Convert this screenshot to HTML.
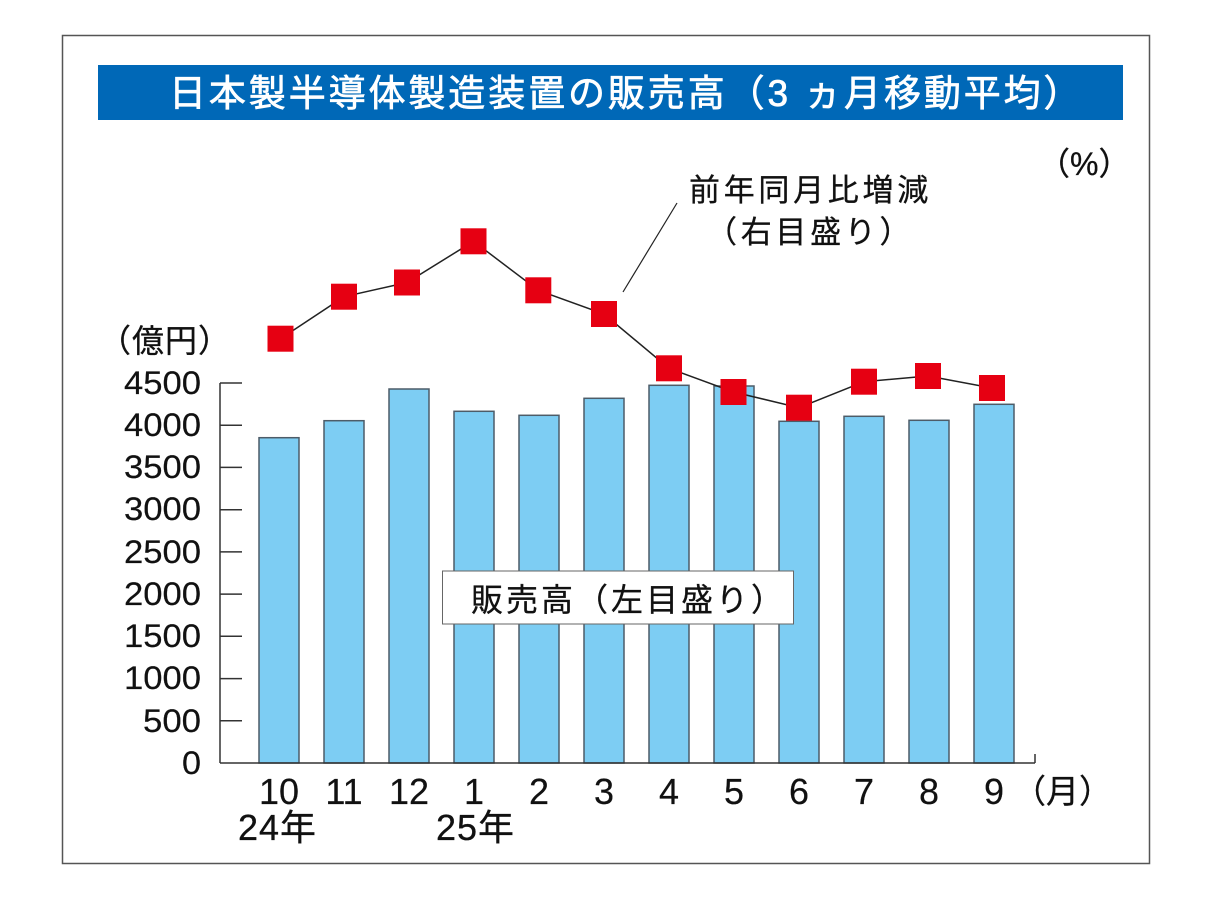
<!DOCTYPE html>
<html>
<head>
<meta charset="utf-8">
<style>
html,body{margin:0;padding:0;background:#fff;}
svg{display:block;}
text{font-family:"Liberation Sans","Noto Sans CJK JP",sans-serif;}
</style>
</head>
<body>
<svg width="1222" height="904" viewBox="0 0 1222 904" xmlns="http://www.w3.org/2000/svg">
  <rect x="0" y="0" width="1222" height="904" fill="#ffffff"/>
  <!-- frame -->
  <rect x="62.5" y="35.5" width="1087" height="828" fill="none" stroke="#555" stroke-width="1.5"/>
  <!-- title bar -->
  <rect x="98" y="65" width="1025" height="55" fill="#0068b7"/>
  <text x="169" y="106" font-size="37" fill="#ffffff" stroke="#ffffff" stroke-width="0.7" letter-spacing="2.9">日本製半導体製造装置の販売高（3 ヵ月移動平均）</text>

  <!-- unit labels -->
  <g fill="#111" stroke="#111" stroke-width="0.3">
  <text x="1038" y="175" font-size="32">（%）</text>
  <text x="99" y="352" font-size="32" letter-spacing="1">（億円）</text>

  <!-- annotation -->
  <text x="689" y="201" font-size="31" letter-spacing="3.7">前年同月比増減</text>
  <text x="706" y="243" font-size="31" letter-spacing="3.7">（右目盛り）</text>
  </g>
  <line x1="677" y1="203" x2="623" y2="292" stroke="#222" stroke-width="1.2"/>

  <!-- bars -->
  <g fill="#7dcdf3" stroke="#4d5c68" stroke-width="1.5">
    <rect x="259" y="437.7" width="40" height="325.3"/>
    <rect x="324" y="420.7" width="40" height="342.3"/>
    <rect x="389" y="389" width="40" height="374"/>
    <rect x="454" y="411.3" width="40" height="351.7"/>
    <rect x="519" y="415.3" width="40" height="347.7"/>
    <rect x="584" y="398.3" width="40" height="364.7"/>
    <rect x="649" y="385.3" width="40" height="377.7"/>
    <rect x="714" y="386" width="40" height="377"/>
    <rect x="779" y="421.3" width="40" height="341.7"/>
    <rect x="844" y="416.3" width="40" height="346.7"/>
    <rect x="909" y="420.3" width="40" height="342.7"/>
    <rect x="974" y="404.3" width="40" height="358.7"/>
  </g>

  <!-- axes -->
  <g stroke="#333" stroke-width="1.5" fill="none">
    <line x1="220" y1="383" x2="220" y2="763"/>
    <line x1="220" y1="763" x2="1035" y2="763"/>
    <line x1="1035" y1="754" x2="1035" y2="763"/>
    <line x1="220" y1="383" x2="242" y2="383"/>
    <line x1="220" y1="425.2" x2="242" y2="425.2"/>
    <line x1="220" y1="467.4" x2="242" y2="467.4"/>
    <line x1="220" y1="509.7" x2="242" y2="509.7"/>
    <line x1="220" y1="551.9" x2="242" y2="551.9"/>
    <line x1="220" y1="594.1" x2="242" y2="594.1"/>
    <line x1="220" y1="636.3" x2="242" y2="636.3"/>
    <line x1="220" y1="678.6" x2="242" y2="678.6"/>
    <line x1="220" y1="720.8" x2="242" y2="720.8"/>
  </g>

  <!-- y tick labels -->
  <g font-size="32" fill="#111" stroke="#111" stroke-width="0.2">
    <text x="124" y="394" textLength="77" lengthAdjust="spacingAndGlyphs">4500</text>
    <text x="124" y="436" textLength="77" lengthAdjust="spacingAndGlyphs">4000</text>
    <text x="124" y="478" textLength="77" lengthAdjust="spacingAndGlyphs">3500</text>
    <text x="124" y="520" textLength="77" lengthAdjust="spacingAndGlyphs">3000</text>
    <text x="124" y="563" textLength="77" lengthAdjust="spacingAndGlyphs">2500</text>
    <text x="124" y="605" textLength="77" lengthAdjust="spacingAndGlyphs">2000</text>
    <text x="124" y="647" textLength="77" lengthAdjust="spacingAndGlyphs">1500</text>
    <text x="124" y="689" textLength="77" lengthAdjust="spacingAndGlyphs">1000</text>
    <text x="143" y="732" textLength="58" lengthAdjust="spacingAndGlyphs">500</text>
    <text x="182" y="774" textLength="19" lengthAdjust="spacingAndGlyphs">0</text>
  </g>

  <!-- x labels -->
  <g font-size="36" fill="#111" stroke="#111" stroke-width="0.2" text-anchor="middle">
    <text x="279" y="804">10</text>
    <text x="344" y="804">11</text>
    <text x="409" y="804">12</text>
    <text x="474" y="804">1</text>
    <text x="539" y="804">2</text>
    <text x="604" y="804">3</text>
    <text x="669" y="804">4</text>
    <text x="734" y="804">5</text>
    <text x="799" y="804">6</text>
    <text x="864" y="804">7</text>
    <text x="929" y="804">8</text>
    <text x="994" y="804">9</text>
  </g>
  <g fill="#111" stroke="#111" stroke-width="0.3">
  <text x="1013" y="803" font-size="33">（月）</text>
  <text x="238" y="840" font-size="36" letter-spacing="1">24年</text>
  <text x="436" y="840" font-size="36" letter-spacing="1">25年</text>
  </g>

  <!-- legend box -->
  <rect x="442.5" y="571" width="351" height="53" fill="#ffffff" stroke="#666" stroke-width="1"/>
  <text x="471" y="611" font-size="32" fill="#111" stroke="#111" stroke-width="0.3" letter-spacing="3">販売高（左目盛り）</text>

  <!-- line series -->
  <polyline fill="none" stroke="#222" stroke-width="1.5"
    points="280.5,338.7 344,296.7 407,282.5 473.5,241.3 538.3,290.3 604,314 669,368.3 733.5,392 799,407.7 864,381.7 928,376 992,388"/>
  <g fill="#e60012">
    <rect x="267.5" y="325.7" width="26" height="26"/>
    <rect x="331" y="283.7" width="26" height="26"/>
    <rect x="394" y="269.5" width="26" height="26"/>
    <rect x="460.5" y="228.3" width="26" height="26"/>
    <rect x="525.3" y="277.3" width="26" height="26"/>
    <rect x="591" y="301" width="26" height="26"/>
    <rect x="656" y="355.3" width="26" height="26"/>
    <rect x="720.5" y="379" width="26" height="26"/>
    <rect x="786" y="394.7" width="26" height="26"/>
    <rect x="851" y="368.7" width="26" height="26"/>
    <rect x="915" y="363" width="26" height="26"/>
    <rect x="979" y="375" width="26" height="26"/>
  </g>
</svg>
</body>
</html>
